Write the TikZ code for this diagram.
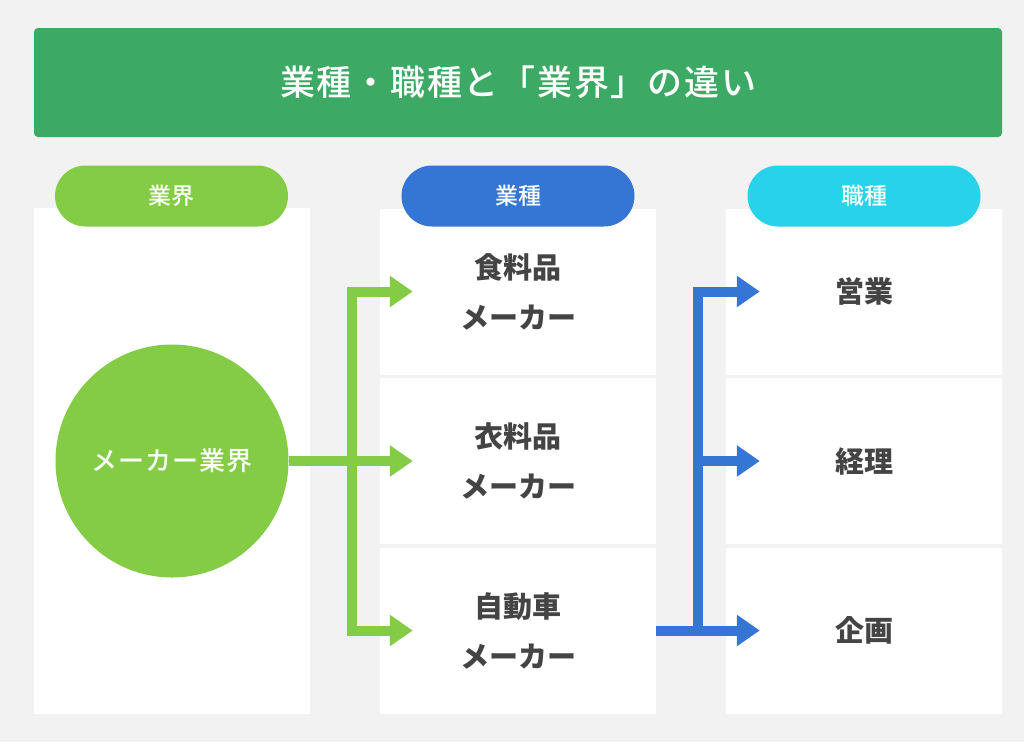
\documentclass[tikz,border=0pt]{standalone}
\usepackage{fontspec}
\setmainfont{Noto Sans CJK JP}
\newfontfamily\mediumfont{Noto Sans CJK JP Medium}
\usetikzlibrary{arrows.meta}
\usetikzlibrary{positioning}
\definecolor{bggray}{HTML}{F2F2F2}
\definecolor{titlegreen}{HTML}{3CAA64}
\definecolor{lightgreen}{HTML}{84CC45}
\definecolor{midblue}{HTML}{3575D3}
\definecolor{skyblue}{HTML}{28D2EA}
\definecolor{textgray}{HTML}{444444}
\tikzset{
  panel/.style={fill=white, inner sep=0pt, minimum width=276pt},
  cell/.style={panel, minimum height=166pt, align=center, text=textgray,
    font=\bfseries\fontsize{29}{50}\selectfont},
  pill/.style={fill=#1, rounded corners=30.5pt, minimum width=233pt,
    minimum height=61pt, text=white, font=\mediumfont\fontsize{23}{26}\selectfont},
  garrow/.style={lightgreen, line width=10pt, -{Triangle[length=23pt,width=30pt]}},
  barrow/.style={midblue, line width=10pt, -{Triangle[length=23pt,width=30pt]}}
}
\begin{document}
\begin{tikzpicture}[x=1pt, y=-1pt]
      \fill [bggray] (0, 0) rectangle (1024, 742);

      \node [fill=titlegreen, rounded corners=4pt, minimum width=968pt, minimum height=109pt, text=white,
        font=\mediumfont\fontsize{35}{38}\selectfont\addfontfeature{LetterSpace=5}] (title) at (518, 82.5) {業種・職種と「業界」の違い};

      \node [panel, minimum height=506pt] (industry) at (171.5, 461) {};
      \node [cell] (food) at (518, 291.5) {食料品\\メーカー};
      \node [cell] (clothes) at (518, 461) {衣料品\\メーカー};
      \node [cell] (car) at (518, 630.5) {自動車\\メーカー};
      \node [cell] (sales) at (864, 291.5) {営業};
      \node [cell] (account) at (864, 461) {経理};
      \node [cell] (plan) at (864, 630.5) {企画};

      \node [pill=lightgreen] (head1) at (171.5, 196) {業界};
      \node [pill=midblue] (head2) at (518, 196) {業種};
      \node [pill=skyblue] (head3) at (864, 196) {職種};

      \node [circle, fill=lightgreen, minimum size=233pt, text=white,
        font=\mediumfont\fontsize{26}{30}\selectfont\addfontfeature{LetterSpace=4}] (maker) at (172, 461) {メーカー業界};

      \coordinate (gbus) at (352, 461);
      \coordinate (bbus) at (698, 461);

      \draw [garrow] (maker.east) -- ([xshift=33pt]clothes.west);
      \draw [garrow] (gbus |- car.west) -- (gbus |- food.west) -- ([xshift=33pt]food.west);
      \draw [garrow] (gbus |- food.west) -- (gbus |- car.west) -- ([xshift=33pt]car.west);

      \draw [barrow] (car.east) -- (bbus |- car.east) -- (bbus |- sales.west) -- ([xshift=34pt]sales.west);
      \draw [barrow] (bbus |- account.west) -- ([xshift=34pt]account.west);
      \draw [barrow] (bbus |- car.east) -- ([xshift=34pt]plan.west);
    \end{tikzpicture}
\end{document}
